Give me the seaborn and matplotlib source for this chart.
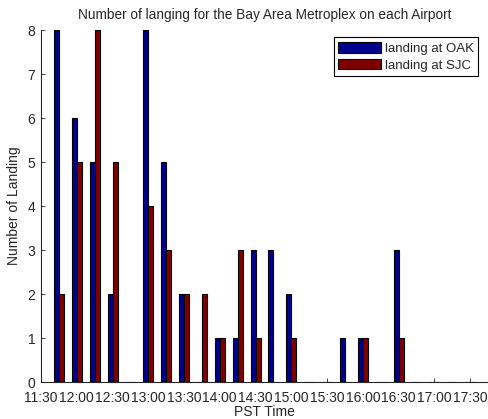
import pandas as pd
import matplotlib
matplotlib.use('Agg')
import matplotlib.pyplot as plt
import seaborn as sns

# 15 minute slots, PST
slots = ['11:30', '11:45', '12:00', '12:15', '12:30', '12:45', '13:00', '13:15',
         '13:30', '13:45', '14:00', '14:15', '14:30', '14:45', '15:00', '15:15',
         '15:30', '15:45', '16:00', '16:15', '16:30', '16:45', '17:00', '17:15',
         '17:30']
oak = [0, 8, 6, 5, 2, 0, 8, 5, 2, 0, 1, 1, 3, 3, 2, 0, 0, 1, 1, 0, 3, 0, 0, 0, 0]
sjc = [0, 2, 5, 8, 5, 0, 4, 3, 2, 2, 1, 3, 1, 0, 1, 0, 0, 0, 1, 0, 1, 0, 0, 0, 0]
tick_labels = ['11:30', '12:00', '12:30', '13:00', '13:30', '14:00', '14:30',
               '15:00', '15:30', '16:00', '16:30', '17:00', '17:30']

df = pd.concat([
    pd.DataFrame({'time': slots, 'count': oak, 'airport': 'landing at OAK'}),
    pd.DataFrame({'time': slots, 'count': sjc, 'airport': 'landing at SJC'}),
])

sns.set_style('ticks')
plt.rcParams['font.family'] = ['Liberation Sans', 'DejaVu Sans']
plt.rcParams['font.size'] = 10

fig = plt.figure(figsize=(4.88, 4.19), dpi=100)
ax = fig.add_axes([0.084, 0.0883, 0.916, 0.840])

sns.barplot(data=df, x='time', y='count', hue='airport', order=slots,
            palette=['#00008f', '#800000'], width=0.56, gap=0,
            edgecolor='black', linewidth=0.8, saturation=1, ax=ax)

ax.set_xlim(0, 25)
ax.set_ylim(0, 8)
ax.set_xticks(range(0, 25, 2))
ax.set_xticklabels(tick_labels)
ax.set_yticks(range(0, 9))
ax.tick_params(direction='in', length=3, width=0.6, labelsize=10)
ax.tick_params(axis='x', pad=6.5)
ax.tick_params(axis='y', pad=4)
for s in ['left', 'bottom']:
    ax.spines[s].set_linewidth(0.8)
sns.despine(ax=ax)

ax.set_title('Number of langing for the Bay Area Metroplex on each Airport',
             fontsize=9.8, pad=8)
ax.set_xlabel('PST Time', fontsize=10, labelpad=0)
ax.set_ylabel('Number of Landing', fontsize=10, labelpad=5)

leg = ax.legend(loc='upper right', bbox_to_anchor=(0.978, 0.979), fancybox=False,
                framealpha=1, edgecolor='black', fontsize=9.5, handlelength=3.25,
                handleheight=0.9, handletextpad=0.3, borderpad=0.33,
                labelspacing=0.28, borderaxespad=0)
leg.get_frame().set_linewidth(0.8)

fig.savefig('out.png', dpi=100)
